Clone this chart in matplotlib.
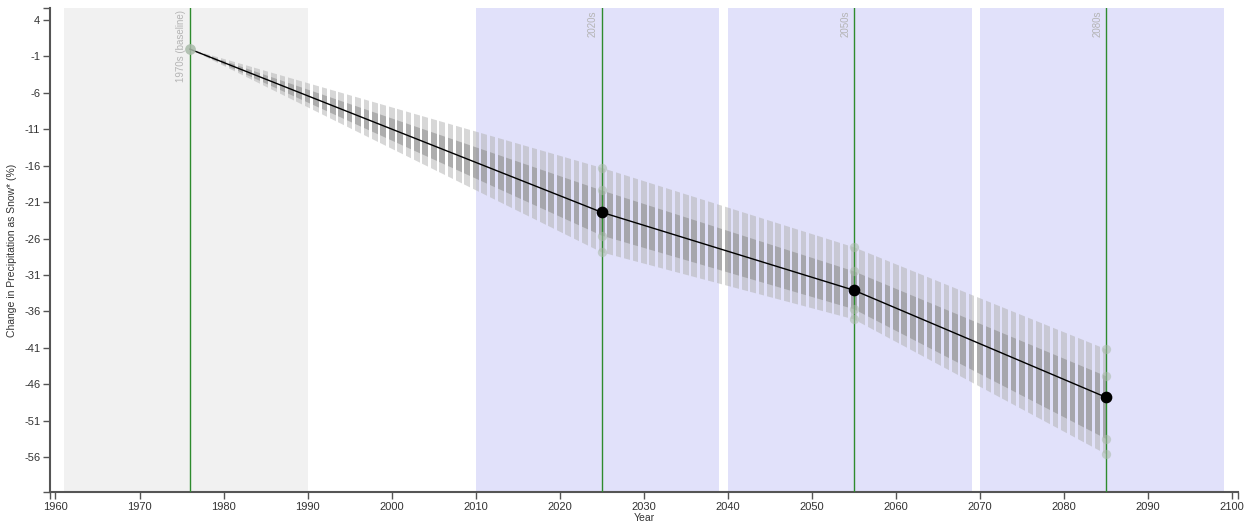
import numpy as np
import matplotlib
matplotlib.use("Agg")
from matplotlib import pyplot as plt
from matplotlib.patches import Polygon

plt.rcParams['font.family'] = ['Liberation Sans', 'DejaVu Sans']
plt.rcParams['axes.unicode_minus'] = False

# decade points (centre year of each period)
years = [1976, 2025, 2055, 2085]
labels = ["1970s (baseline)", "2020s", "2050s", "2080s"]
median = [0, -22.4, -33.1, -47.8]
inner_hi = [0, -19.4, -30.5, -44.9]
inner_lo = [0, -25.6, -35.7, -53.5]
outer_hi = [0, -16.3, -27.2, -41.2]
outer_lo = [0, -27.9, -37.1, -55.6]

# shaded periods
periods = [(1961, 1990), (2010, 2039), (2040, 2069), (2070, 2099)]
period_colors = ['#f1f1f1', '#e1e1fa', '#e1e1fa', '#e1e1fa']

bar_years = np.arange(1977, 2086)

fig = plt.figure(figsize=(12.44, 5.23), dpi=100)
ax = fig.add_axes([50 / 1244, 31 / 523, 1188 / 1244, 484 / 523])

xlim = (1959.35, 2100.7)
ylim = (-60.8, 5.65)
ax.set_xlim(*xlim)
ax.set_ylim(*ylim)

for (a, b), c in zip(periods, period_colors):
    ax.axvspan(a, b, color=c, lw=0, zorder=0)

# year bars clipped to the band outlines
def band(hi, lo, color, alpha):
    verts = list(zip(years, hi)) + list(zip(years[::-1], lo[::-1]))
    clip = Polygon(verts, closed=True, transform=ax.transData)
    bars = ax.bar(bar_years, 80, bottom=-70, width=0.68, color=color,
                  alpha=alpha, lw=0, zorder=2)
    for p in bars:
        p.set_clip_path(clip)

band(outer_hi, outer_lo, '#b0b0b0', 0.5)
band(inner_hi, inner_lo, '#858585', 0.5)

for yr, lab in zip(years, labels):
    ax.axvline(yr, color='#2e8b2e', lw=1, zorder=3)
    ax.text(yr - 0.45, ylim[1] - 0.3, lab, rotation=90, ha='right', va='top',
            color='#b4b4b4', fontsize=7, zorder=4)

# bound markers at the future decades
for arr in (outer_hi, inner_hi, inner_lo, outer_lo):
    ax.scatter(years[1:], arr[1:], s=45, color='#a9baa9', alpha=0.55,
               lw=0, zorder=4)

ax.plot(years, median, color='black', lw=1, zorder=5)
ax.scatter(years[1:], median[1:], s=55, color='black', zorder=6)
ax.scatter(years[:1], median[:1], s=60, color='#a9baa9', alpha=0.85,
           lw=0, zorder=6)

ax.set_xticks(np.arange(1960, 2101, 10))
ax.set_yticks(np.arange(4, -57, -5))
ax.set_xticks(list(xlim), minor=True)
ax.set_yticks(list(ylim), minor=True)
ax.tick_params(which='both', length=5, width=1, color='#555555',
               labelsize=8, labelcolor='#333333', pad=2)
for s in ('top', 'right'):
    ax.spines[s].set_visible(False)
for s in ('left', 'bottom'):
    ax.spines[s].set_color('#555555')
    ax.spines[s].set_linewidth(1.5)

ax.set_xlabel("Year", fontsize=7.5, color='#333333', labelpad=1)
ax.set_ylabel("Change in Precipitation as Snow* (%)", fontsize=7.5,
              color='#333333')
ax.yaxis.set_label_coords(-33 / 1188, 0.5)

fig.savefig("out.png", dpi=100)
